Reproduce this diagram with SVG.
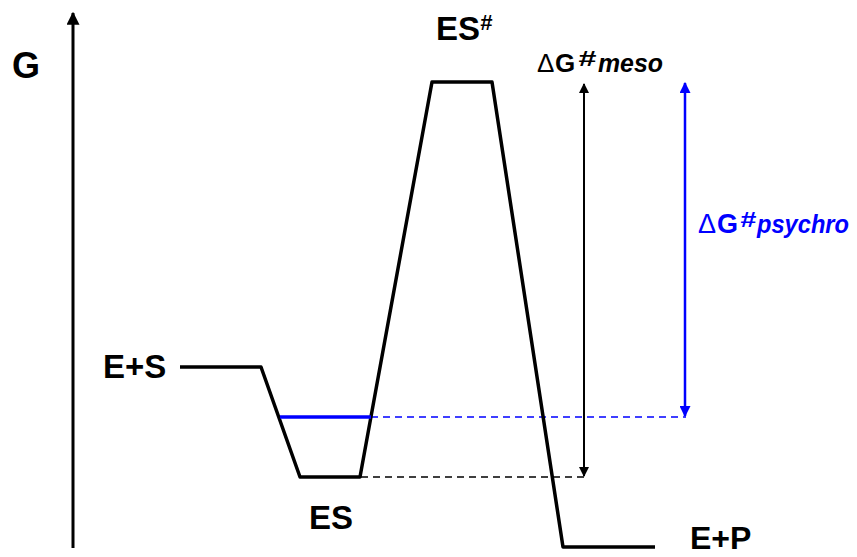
<svg xmlns="http://www.w3.org/2000/svg" width="857" height="557" viewBox="0 0 857 557">
<style>
text{font-family:"Liberation Sans",Arial,sans-serif;font-weight:bold;}
.lbl{font-size:33px;fill:#000;}
.curve{fill:none;stroke:#000;stroke-width:3.5;stroke-linejoin:round;}
.dash{fill:none;stroke-width:1.5;stroke-dasharray:7 5;}
.sup{font-style:italic;}
</style>
<defs>
<marker id="ak" viewBox="0 0 10 10" refX="9" refY="5" markerWidth="10" markerHeight="10" markerUnits="userSpaceOnUse" orient="auto-start-reverse"><path d="M0,0 L10,5 L0,10 Z" fill="#000"/></marker>
<marker id="ab" viewBox="0 0 10 10" refX="9" refY="5" markerWidth="11" markerHeight="11" markerUnits="userSpaceOnUse" orient="auto-start-reverse"><path d="M0,0 L10,5 L0,10 Z" fill="#0000ff"/></marker>
<marker id="aa" viewBox="0 0 10 10" refX="9" refY="5" markerWidth="13" markerHeight="13" markerUnits="userSpaceOnUse" orient="auto"><path d="M0,0 L10,5 L0,10 Z" fill="#000"/></marker>
</defs>
<g id="axis">
<line x1="73" y1="548" x2="73" y2="13" stroke="#000" stroke-width="3" marker-end="url(#aa)"/>
<text x="12" y="78" style="font-size:36px">G</text>
</g>
<g id="connectors">
<line class="dash" x1="361" y1="477" x2="585" y2="477" stroke="#000"/>
<line class="dash" x1="371" y1="417" x2="686" y2="417" stroke="#0000ff"/>
<line x1="584" y1="84" x2="584" y2="476" stroke="#000" stroke-width="2" marker-start="url(#ak)" marker-end="url(#ak)"/>
<line x1="685" y1="83" x2="685" y2="416" stroke="#0000ff" stroke-width="2.5" marker-start="url(#ab)" marker-end="url(#ab)"/>
</g>
<g id="profile">
<polyline class="curve" points="180,367 261,367 300,477 360,477 432,82 492,82 563,547 655,547"/>
<line x1="280" y1="417" x2="371" y2="417" stroke="#0000ff" stroke-width="3.5"/>
</g>
<g id="ES_S"><text class="lbl" x="103" y="378">E+S</text></g>
<g id="ES"><text class="lbl" x="309" y="529">ES</text></g>
<g id="ESt"><text class="lbl" x="436" y="40">ES<tspan class="sup" font-size="22" dy="-10">#</tspan></text></g>
<g id="EP"><text class="lbl" x="690" y="549" style="font-size:32px">E+P</text></g>
<g id="dGmeso"><text y="72" font-size="26" fill="#000"><tspan x="537" font-weight="normal">Δ</tspan><tspan x="555">G</tspan><tspan x="578" y="66" class="sup" font-size="22" textLength="18" lengthAdjust="spacingAndGlyphs">#</tspan><tspan x="598" y="72" class="sup" font-size="25" textLength="65" lengthAdjust="spacingAndGlyphs">meso</tspan></text></g>
<g id="dGpsy"><text y="233" font-size="27" fill="#0000ff"><tspan x="698" font-weight="normal">Δ</tspan><tspan x="717">G</tspan><tspan x="740" y="227" class="sup" font-size="22" textLength="16" lengthAdjust="spacingAndGlyphs">#</tspan><tspan x="757" y="233" class="sup" font-size="26" textLength="92" lengthAdjust="spacingAndGlyphs">psychro</tspan></text></g>
</svg>
